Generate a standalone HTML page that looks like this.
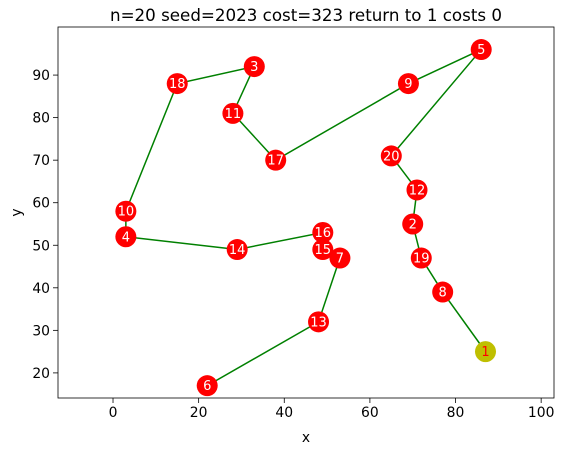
<!DOCTYPE html>
<html><head><meta charset="utf-8"><style>
body{margin:0;background:#fff;width:562px;height:455px;overflow:hidden}
text{font-family:"DejaVu Sans","Liberation Sans",sans-serif}
</style></head><body>
<svg id="c" width="562" height="455"></svg>
<script>
const cityIds=[1,2,3,4,5,6,7,8,9,10,11,12,13,14,15,16,17,18,19,20];
const cityX=[87,70,33,3,86,22,53,77,69,3,28,71,48,29,49,49,38,15,72,65];
const cityY=[25,55,92,52,96,17,47,39,88,58,81,63,32,49,49,53,70,88,47,71];
const route=[1,8,19,2,12,20,5,9,17,11,3,18,10,4,14,16,15,7,13,6];
const xTicks=[0,20,40,60,80,100];
const yTicks=[20,30,40,50,60,70,80,90];
const L=58,R=554,T=27,B=398,x0=-12.85,x1=103.0,y0=14.1,y1=101.3;
const sx=v=>L+(v-x0)/(x1-x0)*(R-L), sy=v=>B-(v-y0)/(y1-y0)*(B-T);
const s=document.getElementById('c'),NS='http://www.w3.org/2000/svg';
function mk(t,a,p){const e=document.createElementNS(NS,t);for(const k in a)e.setAttribute(k,a[k]);(p||s).appendChild(e);return e;}
let fr=mk('rect',{x:L,y:T,width:R-L,height:B-T,fill:'none',stroke:'#000','stroke-width':0.8});

xTicks.forEach(v=>{const x=sx(v);mk('line',{x1:x,x2:x,y1:B,y2:B+5,stroke:'#000','stroke-width':0.8});
const t=mk('text',{x:x,y:B+19,'text-anchor':'middle','font-size':13.9});t.textContent=v;
});
yTicks.forEach(v=>{const y=sy(v);mk('line',{x1:L-5,x2:L,y1:y,y2:y,stroke:'#000','stroke-width':0.8});
const t=mk('text',{x:L-8,y:y+5,'text-anchor':'end','font-size':13.9});t.textContent=v;
});
let xt=mk('text',{x:(L+R)/2,y:442,'text-anchor':'middle','font-size':13.9});xt.textContent='x';

let yt=mk('text',{x:21,y:(T+B)/2,'text-anchor':'middle','font-size':13.9,transform:`rotate(-90 21 ${(T+B)/2})`});yt.textContent='y';

let tt=mk('text',{x:(L+R)/2,y:21,'text-anchor':'middle','font-size':16.7});tt.textContent='n=20 seed=2023 cost=323 return to 1 costs 0';

const pts=route.map(id=>{const i=cityIds.indexOf(id);return sx(cityX[i])+','+sy(cityY[i]);}).join(' ');
let pl=mk('polyline',{points:pts,fill:'none',stroke:'#008000','stroke-width':1.5});

cityIds.forEach((id,i)=>{const g=mk('g',{});

mk('circle',{cx:sx(cityX[i]),cy:sy(cityY[i]),r:10.5,fill:id===1?'#bfbf00':'#ff0000'},g);
const t=mk('text',{x:sx(cityX[i]),y:sy(cityY[i])+4.5,'text-anchor':'middle','font-size':13,fill:id===1?'#ff0000':'#fff'},g);t.textContent=id;});
</script>
</body></html>
